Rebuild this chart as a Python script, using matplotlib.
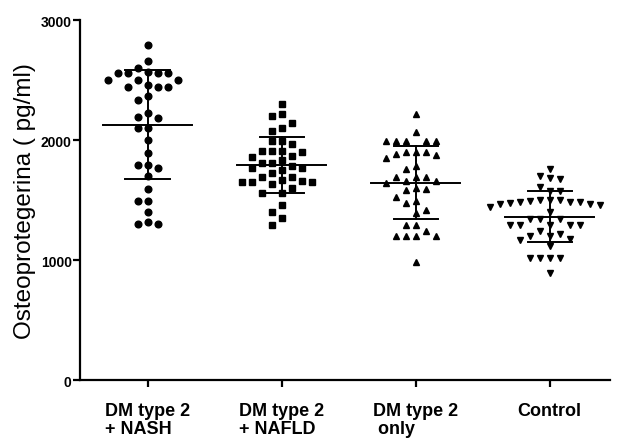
import numpy as np
import matplotlib
matplotlib.use('Agg')
from matplotlib import pyplot as plt

plt.rcParams['font.family'] = ['Liberation Sans', 'DejaVu Sans']

categories = ['DM type 2\n+ NASH', 'DM type 2\n+ NAFLD', 'DM type 2\n only', 'Control']

nash = [2792, 2661, 2597, 2555, 2560, 2555, 2560, 2570, 2500, 2500, 2500,
        2444, 2444, 2444, 2460, 2364, 2333, 2222, 2195, 2180, 2103, 2103,
        2003, 1892, 1790, 1770, 1790, 1703, 1592, 1494, 1494, 1397, 1315,
        1300, 1300]
nafld = [2300, 2217, 2197, 2142, 2097, 2078, 1994, 1994, 1967, 1911, 1897,
         1911, 1911, 1869, 1860, 1833, 1810, 1786, 1810, 1764, 1764, 1750,
         1725, 1689, 1689, 1653, 1653, 1669, 1660, 1653, 1633, 1600, 1558,
         1558, 1458, 1397, 1354, 1292]
only = [2217, 2064, 1996, 1996, 1996, 1996, 1996, 1897, 1897, 1897, 1883,
        1850, 1875, 1780, 1758, 1694, 1694, 1694, 1661, 1642, 1661, 1597,
        1583, 1590, 1522, 1494, 1472, 1419, 1392, 1292, 1292, 1242, 1197,
        1197, 1197, 1197, 986]
control = [1758, 1681, 1675, 1703, 1606, 1578, 1578, 1500, 1500, 1486, 1481,
           1475, 1467, 1439, 1458, 1467, 1486, 1494, 1503, 1403, 1342, 1342,
           1342, 1292, 1292, 1292, 1292, 1292, 1244, 1217, 1197, 1175, 1169,
           1197, 1119, 1017, 1017, 1017, 1017, 889]

groups = [nash, nafld, only, control]
markers = ['o', 's', '^', 'v']

fig = plt.figure(figsize=(6.17, 4.39), dpi=100)
ax = fig.add_axes([0.1297, 0.1321, 0.859, 0.820])
ax.set_xlim(0.496, 4.45)
ax.set_ylim(0, 3000)

# pixel scales used for a simple beeswarm layout
px_x = 0.859 * 617 / (4.45 - 0.496)
px_y = 0.820 * 439 / 3000.0
step = 10.0  # px between columns
mindist = 9.0


def swarm(vals):
    order = np.argsort(vals)[::-1]
    placed = []
    offs = np.zeros(len(vals))
    for i in order:
        y = vals[i] * px_y
        k = 0
        while True:
            cands = [0] if k == 0 else [-k, k]
            ok = None
            for c in cands:
                x = c * step
                if all((x - px) ** 2 + (y - py) ** 2 >= mindist ** 2 for px, py in placed):
                    ok = x
                    break
            if ok is not None:
                placed.append((ok, y))
                offs[i] = ok / px_x
                break
            k += 1
    return offs


for i, (vals, m) in enumerate(zip(groups, markers)):
    vals = np.array(vals, dtype=float)
    pos = i + 1
    offs = swarm(vals)
    ax.plot(pos + offs, vals, m, color='black', ms=4.8, mec='black', zorder=2, clip_on=False)
    mu = vals.mean()
    sd = vals.std(ddof=1)
    ax.plot([pos - 0.33, pos + 0.33], [mu, mu], color='black', lw=1.4, zorder=3)
    ax.plot([pos - 0.165, pos + 0.165], [mu + sd, mu + sd], color='black', lw=1.4, zorder=3)
    ax.plot([pos - 0.165, pos + 0.165], [mu - sd, mu - sd], color='black', lw=1.4, zorder=3)
    ax.plot([pos, pos], [mu - sd, mu + sd], color='black', lw=1.4, zorder=3)

for s in ['top', 'right']:
    ax.spines[s].set_visible(False)
for s in ['left', 'bottom']:
    ax.spines[s].set_linewidth(1.6)

ax.set_yticks([0, 1000, 2000, 3000])
ax.set_yticklabels(['0', '1000', '2000', '3000'], fontsize=10, fontweight='bold')
ax.set_xticks([1, 2, 3, 4])
ax.set_xticklabels(categories, fontsize=13, fontweight='bold',
                   multialignment='left', linespacing=1.05)
ax.tick_params(axis='both', direction='out', length=5, width=1.6)
ax.tick_params(axis='x', pad=11)
ax.tick_params(axis='y', pad=1)

ax.set_ylabel('Osteoprotegerina ( pg/ml)', fontsize=17.5)
ax.yaxis.set_label_coords(-0.083, 0.5)

fig.savefig('out.png', dpi=100)
